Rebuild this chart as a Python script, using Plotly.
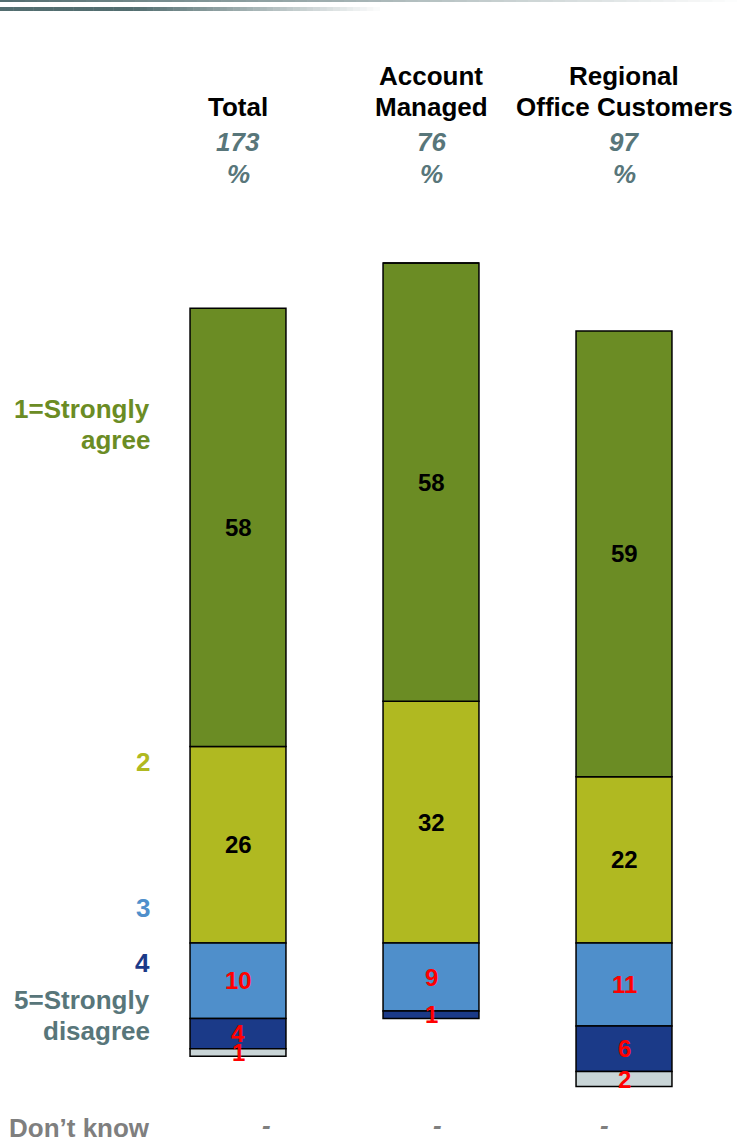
import plotly.graph_objects as go

# ── data ──────────────────────────────────────────
groups = ['Total', 'Account<br>Managed', 'Regional<br>Office Customers']
bases = ['173', '76', '97']
agree_1 = [58, 58, 59]
agree_2 = [26, 32, 22]
neutral_3 = [10, 9, 11]
disagree_4 = [4, 1, 6]
disagree_5 = [1, 0, 2]
dont_know = ['-', '-', '-']

W, H = 737, 1144
FONT = 'Liberation Sans, Arial, sans-serif'

C1 = '#6b8c24'
C2 = '#b0b921'
C3 = '#4f8fcb'
C4 = '#1b3a88'
C5 = '#c9d5d7'
GREY = '#58767a'

xs = [0, 1, 2]
fig = go.Figure()

# positive side (above the 3|2 boundary) and negative side (below it)
series = [
    ('2', agree_2, 1, C2),
    ('1=Strongly agree', agree_1, 1, C1),
    ('3', neutral_3, -1, C3),
    ('4', disagree_4, -1, C4),
    ('5=Strongly disagree', disagree_5, -1, C5),
]
for name, vals, sign, col in series:
    fig.add_trace(go.Bar(
        x=xs, y=[sign * v for v in vals], name=name, width=0.497,
        marker=dict(color=col, line=dict(color='black', width=1.5)),
        hoverinfo='skip',
    ))

# value labels at segment centres
ann = []
def lab(x, y, v, color):
    ann.append(dict(x=x, y=y, xref='x', yref='y', text=f'<b>{v}</b>', showarrow=False,
                    yanchor='middle', font=dict(family=FONT, size=24, color=color)))

for i in xs:
    lab(i, agree_2[i] / 2, agree_2[i], 'black')
    lab(i, agree_2[i] + agree_1[i] / 2, agree_1[i], 'black')
    lab(i, -neutral_3[i] / 2, neutral_3[i], '#ff0000')
    if disagree_4[i]:
        lab(i, -(neutral_3[i] + disagree_4[i] / 2), disagree_4[i], '#ff0000')
    if disagree_5[i]:
        lab(i, -(neutral_3[i] + disagree_4[i] + disagree_5[i] / 2), disagree_5[i], '#ff0000')


def py(p):
    return 1 - p / H


# column headers
for i in xs:
    lines = groups[i].split('<br>')
    for k, ln in enumerate(reversed(lines)):
        ann.append(dict(x=i, y=py(107 - 31 * k), xref='x', yref='paper', text=f'<b>{ln}</b>',
                        showarrow=False, yanchor='middle',
                        font=dict(family=FONT, size=26, color='black')))
    ann.append(dict(x=i, y=py(142), xref='x', yref='paper', text=f'<b><i>{bases[i]}</i></b>',
                    showarrow=False, yanchor='middle', font=dict(family=FONT, size=26, color=GREY)))
    ann.append(dict(x=i, y=py(174), xref='x', yref='paper', text='<b><i>%</i></b>',
                    showarrow=False, yanchor='middle', font=dict(family=FONT, size=26, color=GREY)))

# don't know row
for i, px in zip(xs, [266, 438, 611]):
    ann.append(dict(x=px / W, y=py(1125), xref='paper', yref='paper', text=f'<b><i>{dont_know[i]}</i></b>',
                    showarrow=False, yanchor='middle', font=dict(family=FONT, size=26, color='#7f7f7f')))

# left legend labels
left = [
    ('1=Strongly<br>agree', 425, C1),
    ('2', 762, C2),
    ('3', 908, C3),
    ('4', 963, C4),
    ('5=Strongly<br>disagree', 1015, GREY),
    ('Don’t know', 1128, '#7f7f7f'),
]
for txt, y, col in left:
    parts = txt.split('<br>')
    n = len(parts)
    for k, p in enumerate(parts):
        ann.append(dict(x=152 / W, y=py(y + (k - (n - 1) / 2) * 31), xref='paper', yref='paper',
                        text=f'<b>{p}</b>', showarrow=False, xanchor='right', yanchor='middle',
                        font=dict(family=FONT, size=26, color=col)))

# header strip gradients
shapes = []
N = 60
def mix(t):
    a = (0x53, 0x6e, 0x70)
    return 'rgb(%d,%d,%d)' % tuple(round(c + (255 - c) * t) for c in a)

for j in range(N):
    t = j / N
    shapes.append(dict(type='rect', xref='paper', yref='paper', x0=t, x1=t + 1 / N + 0.001,
                       y0=py(2), y1=1, line=dict(width=0), fillcolor=mix(t)))
for j in range(N):
    x0 = j * 400 / N
    t = max(0, (x0 - 130) / 250)
    shapes.append(dict(type='rect', xref='paper', yref='paper', x0=x0 / W, x1=(x0 + 400 / N + 0.5) / W,
                       y0=py(11), y1=py(7), line=dict(width=0), fillcolor=mix(min(t, 1))))

scale = 7.556
fig.update_layout(
    width=W, height=H, autosize=False,
    margin=dict(l=0, r=0, t=0, b=0),
    paper_bgcolor='white', plot_bgcolor='white',
    barmode='relative', showlegend=False,
    xaxis=dict(range=[-238 / 193, (W - 238) / 193], visible=False, fixedrange=True),
    yaxis=dict(range=[-(H - 943) / scale, 943 / scale], visible=False, fixedrange=True),
    annotations=ann, shapes=shapes,
)

fig.write_html('out.html', config={'displayModeBar': False},
               post_script="document.body.style.margin='0px';")
